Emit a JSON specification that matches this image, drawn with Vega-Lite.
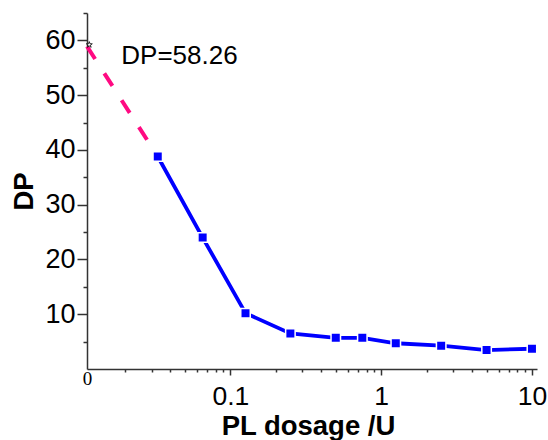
{
  "$schema": "https://vega.github.io/schema/vega-lite/v6.json",
  "width": 450,
  "height": 356,
  "autosize": "none",
  "padding": {"left": 87, "top": 13, "right": 11, "bottom": 71},
  "background": "white",
  "config": {"view": {"stroke": null}, "font": "Liberation Sans"},
  "datasets": {
    "measured": [
      {"dose": 0.033, "dp": 38.8},
      {"dose": 0.0655, "dp": 24.0},
      {"dose": 0.126, "dp": 10.2},
      {"dose": 0.25, "dp": 6.5},
      {"dose": 0.5, "dp": 5.7},
      {"dose": 0.75, "dp": 5.7},
      {"dose": 1.25, "dp": 4.7},
      {"dose": 2.5, "dp": 4.25},
      {"dose": 5, "dp": 3.45},
      {"dose": 10, "dp": 3.7}
    ],
    "extrap": [
      {"dose": 0.0112, "dp": 58.9},
      {"dose": 0.033, "dp": 38.8}
    ],
    "star": [
      {"dose": 0.0116, "dp": 59.2}
    ],
    "note": [
      {"dose": 0.0189, "dp": 55.75, "label": "DP=58.26"}
    ]
  },
  "encoding": {
    "x": {
      "field": "dose",
      "type": "quantitative",
      "scale": {"type": "log", "domain": [0.0112, 10.8], "nice": false, "zero": false},
      "axis": {
        "values": [0.0112, 0.02, 0.03, 0.04, 0.05, 0.06, 0.07, 0.08, 0.09, 0.1, 0.2, 0.3, 0.4, 0.5, 0.6, 0.7, 0.8, 0.9, 1, 2, 3, 4, 5, 6, 7, 8, 9, 10],
        "labelExpr": "datum.value < 0.015 ? '0' : datum.value == 0.1 ? '0.1' : datum.value == 1 ? '1' : datum.value == 10 ? '10' : ''",
        "labelFont": {"condition": {"test": "datum.value < 0.015", "value": "Liberation Serif"}, "value": "Liberation Sans"},
        "labelFontSize": {"condition": {"test": "datum.value < 0.015", "value": 19}, "value": 26.5},
        "labelPadding": {"condition": {"test": "datum.value < 0.015", "value": -3}, "value": 8},
        "tickSize": {"condition": {"test": "datum.value == 0.1 || datum.value == 1 || datum.value == 10", "value": 6}, "value": 3},
        "tickOpacity": {"condition": {"test": "datum.value < 0.015", "value": 0}, "value": 1},
        "labelOverlap": false,
        "labelFlush": false,
        "labelBound": false,
        "labelColor": "black",
        "domainColor": "#333333",
        "domainWidth": 1.5,
        "tickColor": "#333333",
        "tickWidth": 1.5,
        "grid": false,
        "title": "PL dosage /U",
        "titleFont": "Liberation Sans",
        "titleFontSize": 27.5,
        "titleFontWeight": "bold",
        "titleColor": "black",
        "titleX": 221,
        "titleY": 65,
        "titleAlign": "center",
        "titleBaseline": "alphabetic"
      }
    },
    "y": {
      "field": "dp",
      "type": "quantitative",
      "scale": {"domain": [0, 65], "nice": false, "zero": true},
      "axis": {
        "values": [5, 10, 15, 20, 25, 30, 35, 40, 45, 50, 55, 60, 65],
        "labelExpr": "datum.value % 10 == 0 ? datum.label : ''",
        "labelFontSize": 27,
        "labelColor": "black",
        "labelPadding": 2,
        "labelOverlap": false,
        "labelFlush": false,
        "labelBound": false,
        "tickSize": {"condition": {"test": "datum.value % 10 == 0", "value": 10}, "value": 4},
        "domainColor": "#333333",
        "domainWidth": 1.5,
        "tickColor": "#333333",
        "tickWidth": 1.5,
        "grid": false,
        "title": "DP",
        "titleFont": "Liberation Sans",
        "titleFontSize": 27.5,
        "titleFontWeight": "bold",
        "titleColor": "black",
        "titleAngle": -90,
        "titleX": -55,
        "titleY": 178,
        "titleAlign": "center",
        "titleBaseline": "alphabetic"
      }
    }
  },
  "layer": [
    {
      "data": {"name": "extrap"},
      "mark": {"type": "line", "color": "#ff0a82", "strokeWidth": 4, "strokeDash": [15, 17], "clip": false}
    },
    {
      "data": {"name": "star"},
      "mark": {
        "type": "point",
        "shape": "M0,-1L0.2245,-0.309L0.951,-0.309L0.363,0.118L0.588,0.809L0,0.382L-0.588,0.809L-0.363,0.118L-0.951,-0.309L-0.2245,-0.309Z",
        "filled": true,
        "fill": "white",
        "stroke": "black",
        "strokeWidth": 0.8,
        "size": 40,
        "opacity": 1,
        "clip": false
      }
    },
    {
      "data": {"name": "measured"},
      "mark": {"type": "line", "color": "#0000ff", "strokeWidth": 3.8}
    },
    {
      "data": {"name": "measured"},
      "mark": {"type": "point", "shape": "square", "filled": true, "fill": "#0000ff", "stroke": "white", "strokeWidth": 1.5, "size": 90, "opacity": 1}
    },
    {
      "data": {"name": "note"},
      "mark": {"type": "text", "align": "left", "baseline": "alphabetic", "fontSize": 26, "color": "black", "font": "Liberation Sans"},
      "encoding": {"text": {"field": "label"}}
    }
  ]
}
